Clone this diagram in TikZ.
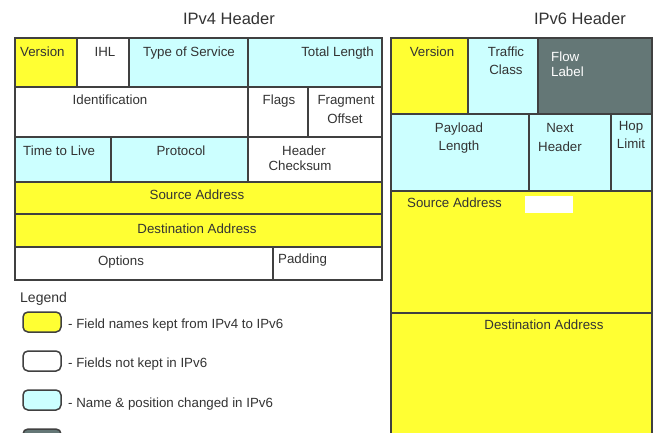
\documentclass[tikz,border=0pt]{standalone}
\usepackage{fontspec}
\setmainfont{Liberation Sans}
\definecolor{fyel}{HTML}{FFFF33}
\definecolor{fcyan}{HTML}{CCFFFF}
\definecolor{fdark}{HTML}{647776}
\definecolor{fline}{HTML}{404040}
\definecolor{ftext}{HTML}{333333}
\tikzset{
  cell/.style={draw=fline, line width=1.6pt},
  lbl/.style={anchor=base, text=ftext, inner sep=0pt, font=\fontsize{13.3}{15}\selectfont},
  lbll/.style={lbl, anchor=base west},
  lblr/.style={lbl, anchor=base east},
  ttl/.style={anchor=base, text=ftext, inner sep=0pt, font=\fontsize{16.5}{19}\selectfont},
  swatch/.style={draw=fline, line width=1.5pt, rounded corners=5pt},
}
\begin{document}
\begin{tikzpicture}[x=1pt,y=-1pt]
\useasboundingbox (0,0) rectangle (653,433);
\fill[white] (0,0) rectangle (653,433);
\begin{scope}
\clip (0,0) rectangle (653,433);
% ---------- titles
\node[ttl] (t4) at (229,25) {IPv4 Header};
\node[ttl] (t6) at (580,25) {IPv6 Header};
% ---------- IPv4 cells
\path[cell, fill=fyel]  (15,38) rectangle (77,87);
\path[cell, fill=white] (77,38) rectangle (129,87);
\path[cell, fill=fcyan] (129,38) rectangle (248,87);
\path[cell, fill=fcyan] (248,38) rectangle (382,87);
\path[cell, fill=white] (15,87) rectangle (248,137);
\path[cell, fill=white] (248,87) rectangle (308,137);
\path[cell, fill=white] (308,87) rectangle (382,137);
\path[cell, fill=fcyan] (15,137) rectangle (111,182);
\path[cell, fill=fcyan] (111,137) rectangle (248,182);
\path[cell, fill=white] (248,137) rectangle (382,182);
\path[cell, fill=fyel]  (15,182) rectangle (382,214);
\path[cell, fill=fyel]  (15,214) rectangle (382,247);
\path[cell, fill=white] (15,247) rectangle (273,280);
\path[cell, fill=white] (273,247) rectangle (382,280);
% ---------- IPv4 labels
\node[lbll] (v4ver) at (20,57) {Version};
\node[lbl] (v4ihl) at (105,57) {IHL};
\node[lbl] (v4tos) at (189,57) {Type of Service};
\node[lblr] (v4tl) at (374,57) {Total Length};
\node[lbl] (v4id) at (110,105) {Identification};
\node[lbl] (v4fl) at (279,105) {Flags};
\node[lbl] (v4fo1) at (346,105) {Fragment};
\node[lbl] (v4fo2) at (345,124) {Offset};
\node[lbll] (v4ttl) at (23,155) {Time to Live};
\node[lbl] (v4pr) at (181,155) {Protocol};
\node[lbll] (v4hc1) at (282,155) {Header};
\node[lbl] (v4hc2) at (300,171) {Checksum};
\node[lbl] (v4sa) at (197,199) {Source Address};
\node[lbl] (v4da) at (197,233) {Destination Address};
\node[lbl] (v4op) at (121,265) {Options};
\node[lbll] (v4pd) at (278,263) {Padding};
% ---------- IPv6 cells
\path[cell, fill=fyel]  (391,38) rectangle (468,114);
\path[cell, fill=fcyan] (468,38) rectangle (538,114);
\path[cell, fill=fdark] (538,38) rectangle (652,114);
\path[cell, fill=fcyan] (391,114) rectangle (529,191);
\path[cell, fill=fcyan] (529,114) rectangle (611,191);
\path[cell, fill=fcyan] (611,114) rectangle (652,191);
\path[cell, fill=fyel]  (391,191) rectangle (652,313);
\path[cell, fill=fyel]  (391,313) rectangle (652,445);
\fill[white] (525,196) rectangle (573,213);
% ---------- IPv6 labels
\node[lbl] (v6ver) at (432,57) {Version};
\node[lbl] (v6tc1) at (506,57) {Traffic};
\node[lbl] (v6tc2) at (506,75) {Class};
\node[lbll, text=white] (v6fl1) at (551,62) {Flow};
\node[lbll, text=white] (v6fl2) at (551,77) {Label};
\node[lbl] (v6pl1) at (459,133) {Payload};
\node[lbl] (v6pl2) at (459,150) {Length};
\node[lbl] (v6nh1) at (560,133) {Next};
\node[lbl] (v6nh2) at (560,151) {Header};
\node[lbl] (v6hl1) at (631,131) {Hop};
\node[lbl] (v6hl2) at (631,148) {Limit};
\node[lbll] (v6sa) at (407,207) {Source Address};
\node[lbl] (v6da) at (544,329) {Destination Address};
% ---------- legend
\node[lbll, font=\fontsize{14}{16}\selectfont] (leg) at (20,302) {Legend};
\path[swatch, fill=fyel]  (23,312) rectangle (61,332);
\path[swatch, fill=white] (23,351) rectangle (61,371);
\path[swatch, fill=fcyan] (23,390) rectangle (61,410);
\path[swatch, fill=fdark] (23,429) rectangle (61,449);
\node[lbll] (l1) at (68,328) {- Field names kept from IPv4 to IPv6};
\node[lbll] (l2) at (68,367) {- Fields not kept in IPv6};
\node[lbll] (l3) at (68,407) {- Name \& position changed in IPv6};
\end{scope}
\end{tikzpicture}
\end{document}
